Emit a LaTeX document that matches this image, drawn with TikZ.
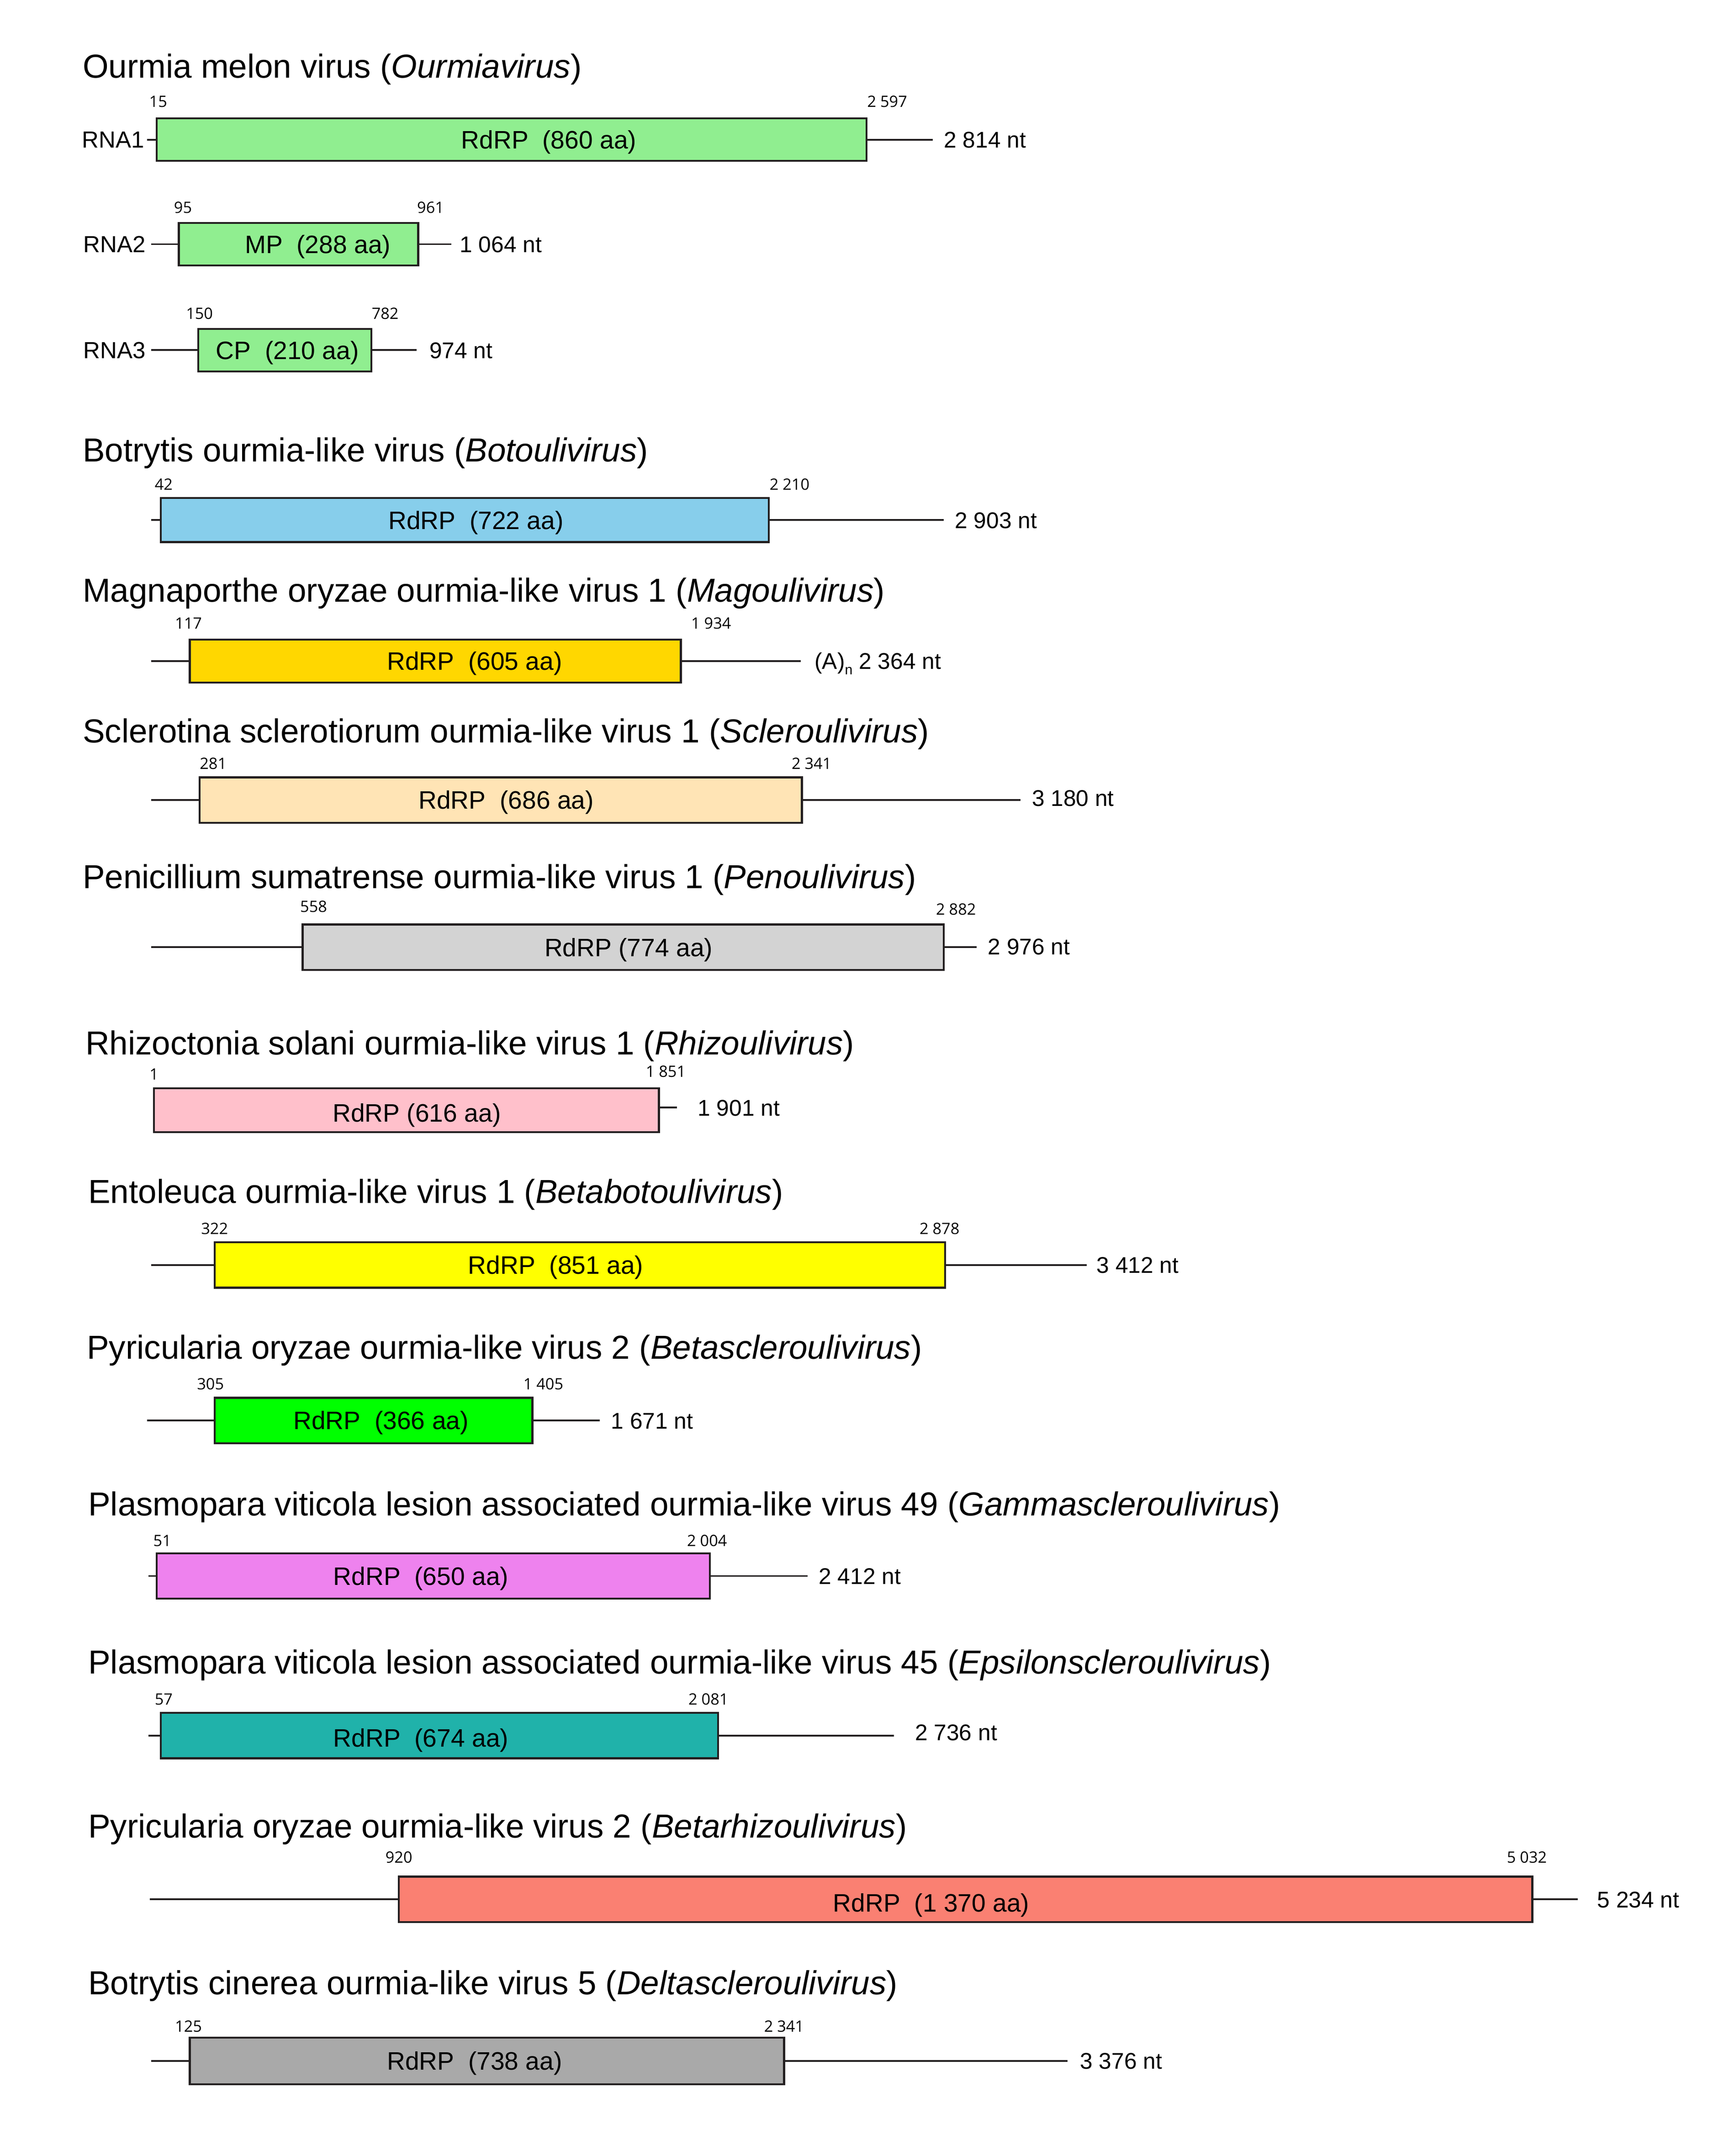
\documentclass[tikz,border=0pt]{standalone}
\usepackage{fontspec}
\setmainfont{Liberation Sans}
\newfontfamily\numfont{Open Sans}
\definecolor{cLG}{HTML}{90EE90}
\definecolor{cSky}{HTML}{87CEEB}
\definecolor{cGold}{HTML}{FFD700}
\definecolor{cMoc}{HTML}{FFE4B5}
\definecolor{cLGray}{HTML}{D3D3D3}
\definecolor{cPink}{HTML}{FFC0CB}
\definecolor{cYel}{HTML}{FFFF00}
\definecolor{cLime}{HTML}{00FF00}
\definecolor{cViol}{HTML}{EE82EE}
\definecolor{cSea}{HTML}{20B2AA}
\definecolor{cSalm}{HTML}{FA8072}
\definecolor{cDGray}{HTML}{A9A9A9}
\definecolor{ink}{HTML}{231F20}
\tikzset{
  title/.style={anchor=base west, yshift=-8.6pt, inner sep=0pt, font=\fontsize{24}{26}\selectfont},
  rna/.style={anchor=base east, yshift=-6pt, inner sep=0pt, font=\fontsize{16.8}{18}\selectfont},
  boxlbl/.style={anchor=base, yshift=-6.5pt, inner sep=0pt, font=\fontsize{18.2}{20}\selectfont},
  lenlbl/.style={anchor=base west, yshift=-5.9pt, inner sep=0pt, font=\fontsize{16.4}{18}\selectfont},
  posnum/.style={anchor=base, yshift=-4pt, inner sep=0pt, font=\numfont\fontsize{11.3}{12}\selectfont},
  gbox/.style={draw=ink, line width=1.4pt, rectangle, inner sep=0pt, outer sep=0pt},
  seg/.style={draw=ink, line width=1.3pt},
}
% name, x1, x2, ytop, ybot, colour
\newcommand\orfbox[6]{%
  \pgfmathsetmacro\bw{(#3-#2)*0.9929}\pgfmathsetmacro\bh{(#5-#4)*0.9929}%
  \node[gbox, fill=#6, minimum width=\bw pt, minimum height=\bh pt] (#1) at ({(#2+#3)/2},{(#4+#5)/2}) {};}
\begin{document}
\begin{tikzpicture}[x=0.9929pt,y=-0.9929pt]
\useasboundingbox (0,0) rectangle (1248.9,1567.1);
\fill[white] (0,0) rectangle (1248.9,1567.1);

% ---------- 1 Ourmia melon virus ----------
\node[title] (t1) at (60,48) {Ourmia melon virus (\textit{Ourmiavirus})};
% RNA1
\orfbox{b1}{114}{630}{86}{117}{cLG}
\node[rna] (n1) at (105,101.5) {RNA1};
\coordinate (b1L) at (107,101.5);
\coordinate (b1R) at (678,101.5);
\draw[seg] (b1L) -- (b1.west);
\draw[seg] (b1.east) -- (b1R);
\node[lenlbl] (l1) at (686,101.5) {2 814 nt};
\node[boxlbl] (x1) at (399,101.5) {RdRP\ \ (860 aa)};
\node[posnum] (p1a) at (115,74) {15};
\node[posnum] (p1b) at (645,74) {2 597};
% RNA2
\orfbox{b2}{130}{304}{162}{193}{cLG}
\node[rna] (n2) at (106,177.5) {RNA2};
\coordinate (b2L) at (110,177.5);
\coordinate (b2R) at (328,177.5);
\draw[seg] (b2L) -- (b2.west);
\draw[seg] (b2.east) -- (b2R);
\node[lenlbl] (l2) at (334,177.5) {1 064 nt};
\node[boxlbl] (x2) at (231,177.5) {MP\ \ (288 aa)};
\node[posnum] (p2a) at (133,151) {95};
\node[posnum] (p2b) at (313,151) {961};
% RNA3
\orfbox{b3}{144}{270}{239}{270}{cLG}
\node[rna] (n3) at (106,254.5) {RNA3};
\coordinate (b3L) at (110,254.5);
\coordinate (b3R) at (303,254.5);
\draw[seg] (b3L) -- (b3.west);
\draw[seg] (b3.east) -- (b3R);
\node[lenlbl] (l3) at (312,254.5) {974 nt};
\node[boxlbl] (x3) at (209,254.5) {CP\ \ (210 aa)};
\node[posnum] (p3a) at (145,228) {150};
\node[posnum] (p3b) at (280,228) {782};

% ---------- 2 Botoulivirus ----------
\node[title] (t4) at (60,327) {Botrytis ourmia-like virus (\textit{Botoulivirus})};
\orfbox{b4}{117}{559}{362}{394}{cSky}
\coordinate (b4L) at (110,378);
\coordinate (b4R) at (686,378);
\draw[seg] (b4L) -- (b4.west);
\draw[seg] (b4.east) -- (b4R);
\node[lenlbl] (l4) at (694,378) {2 903 nt};
\node[boxlbl] (x4) at (346,378) {RdRP\ \ (722 aa)};
\node[posnum] (p4a) at (119,352) {42};
\node[posnum] (p4b) at (574,352) {2 210};

% ---------- 3 Magoulivirus ----------
\node[title] (t5) at (60,429) {Magnaporthe oryzae ourmia-like virus 1 (\textit{Magoulivirus})};
\orfbox{b5}{138}{495}{465}{496}{cGold}
\coordinate (b5L) at (110,480.5);
\coordinate (b5R) at (582,480.5);
\draw[seg] (b5L) -- (b5.west);
\draw[seg] (b5.east) -- (b5R);
\node[lenlbl] (l5) at (592,480.5) {(A)\raisebox{-0.45ex}{\fontsize{10}{11}\selectfont n} 2 364 nt};
\node[boxlbl] (x5) at (345,480.5) {RdRP\ \ (605 aa)};
\node[posnum] (p5a) at (137,453) {117};
\node[posnum] (p5b) at (517,453) {1 934};

% ---------- 4 Scleroulivirus ----------
\node[title] (t6) at (60,531) {Sclerotina sclerotiorum ourmia-like virus 1 (\textit{Scleroulivirus})};
\orfbox{b6}{145}{583}{565}{598}{cMoc}
\coordinate (b6L) at (110,581.5);
\coordinate (b6R) at (742,581.5);
\draw[seg] (b6L) -- (b6.west);
\draw[seg] (b6.east) -- (b6R);
\node[lenlbl] (l6) at (750,580) {3 180 nt};
\node[boxlbl] (x6) at (368,581.5) {RdRP\ \ (686 aa)};
\node[posnum] (p6a) at (155,555) {281};
\node[posnum] (p6b) at (590,555) {2 341};

% ---------- 5 Penoulivirus ----------
\node[title] (t7) at (60,637) {Penicillium sumatrense ourmia-like virus 1 (\textit{Penoulivirus})};
\orfbox{b7}{220}{686}{672}{705}{cLGray}
\coordinate (b7L) at (110,688.5);
\coordinate (b7R) at (710,688.5);
\draw[seg] (b7L) -- (b7.west);
\draw[seg] (b7.east) -- (b7R);
\node[lenlbl] (l7) at (718,688) {2 976 nt};
\node[boxlbl] (x7) at (457,688.5) {RdRP (774 aa)};
\node[posnum] (p7a) at (228,659) {558};
\node[posnum] (p7b) at (695,661) {2 882};

% ---------- 6 Rhizoulivirus ----------
\node[title] (t8) at (62,758) {Rhizoctonia solani ourmia-like virus 1 (\textit{Rhizoulivirus})};
\orfbox{b8}{112}{479}{791}{823}{cPink}
\coordinate (b8R) at (492,805);
\draw[seg] (b8.east |- b8R) -- (b8R);
\node[lenlbl] (l8) at (507,805) {1 901 nt};
\node[boxlbl] (x8) at (303,809) {RdRP (616 aa)};
\node[posnum] (p8a) at (112,781) {1};
\node[posnum] (p8b) at (484,779) {1 851};

% ---------- 7 Betabotoulivirus ----------
\node[title] (t9) at (64,866) {Entoleuca ourmia-like virus 1 (\textit{Betabotoulivirus})};
\orfbox{b9}{156}{687}{903}{936}{cYel}
\coordinate (b9L) at (110,919.5);
\coordinate (b9R) at (790,919.5);
\draw[seg] (b9L) -- (b9.west);
\draw[seg] (b9.east) -- (b9R);
\node[lenlbl] (l9) at (797,919.5) {3 412 nt};
\node[boxlbl] (x9) at (404,919.5) {RdRP\ \ (851 aa)};
\node[posnum] (p9a) at (156,893) {322};
\node[posnum] (p9b) at (683,893) {2 878};

% ---------- 8 Betascleroulivirus ----------
\node[title] (t10) at (63,979) {Pyricularia oryzae ourmia-like virus 2 (\textit{Betascleroulivirus})};
\orfbox{b10}{156}{387}{1016}{1049}{cLime}
\coordinate (b10L) at (107,1032.5);
\coordinate (b10R) at (436,1032.5);
\draw[seg] (b10L) -- (b10.west);
\draw[seg] (b10.east) -- (b10R);
\node[lenlbl] (l10) at (444,1032.5) {1 671 nt};
\node[boxlbl] (x10) at (277,1032.5) {RdRP\ \ (366 aa)};
\node[posnum] (p10a) at (153,1006) {305};
\node[posnum] (p10b) at (395,1006) {1 405};

% ---------- 9 Gammascleroulivirus ----------
\node[title] (t11) at (64,1093) {Plasmopara viticola lesion associated ourmia-like virus 49 (\textit{Gammascleroulivirus})};
\orfbox{b11}{114}{516}{1129}{1162}{cViol}
\coordinate (b11L) at (108,1145.5);
\coordinate (b11R) at (587,1145.5);
\draw[seg] (b11L) -- (b11.west);
\draw[seg] (b11.east) -- (b11R);
\node[lenlbl] (l11) at (595,1145.5) {2 412 nt};
\node[boxlbl] (x11) at (306,1145.5) {RdRP\ \ (650 aa)};
\node[posnum] (p11a) at (118,1120) {51};
\node[posnum] (p11b) at (514,1120) {2 004};

% ---------- 10 Epsilonscleroulivirus ----------
\node[title] (t12) at (64,1208) {Plasmopara viticola lesion associated ourmia-like virus 45 (\textit{Epsilonscleroulivirus})};
\orfbox{b12}{117}{522}{1245}{1278}{cSea}
\coordinate (b12L) at (108,1261.5);
\coordinate (b12R) at (650,1261.5);
\draw[seg] (b12L) -- (b12.west);
\draw[seg] (b12.east) -- (b12R);
\node[lenlbl] (l12) at (665,1259) {2 736 nt};
\node[boxlbl] (x12) at (306,1263) {RdRP\ \ (674 aa)};
\node[posnum] (p12a) at (119,1235) {57};
\node[posnum] (p12b) at (515,1235) {2 081};

% ---------- 11 Betarhizoulivirus ----------
\node[title] (t13) at (64,1327) {Pyricularia oryzae ourmia-like virus 2 (\textit{Betarhizoulivirus})};
\orfbox{b13}{290}{1114}{1364}{1397}{cSalm}
\coordinate (b13L) at (109,1380.5);
\coordinate (b13R) at (1147,1380.5);
\draw[seg] (b13L) -- (b13.west);
\draw[seg] (b13.east) -- (b13R);
\node[lenlbl] (l13) at (1161,1380.5) {5 234 nt};
\node[boxlbl] (x13) at (677,1383) {RdRP\ \ (1 370 aa)};
\node[posnum] (p13a) at (290,1350) {920};
\node[posnum] (p13b) at (1110,1350) {5 032};

% ---------- 12 Deltascleroulivirus ----------
\node[title] (t14) at (64,1441) {Botrytis cinerea ourmia-like virus 5 (\textit{Deltascleroulivirus})};
\orfbox{b14}{138}{570}{1481}{1515}{cDGray}
\coordinate (b14L) at (110,1498);
\coordinate (b14R) at (776,1498);
\draw[seg] (b14L) -- (b14.west);
\draw[seg] (b14.east) -- (b14R);
\node[lenlbl] (l14) at (785,1498) {3 376 nt};
\node[boxlbl] (x14) at (345,1498) {RdRP\ \ (738 aa)};
\node[posnum] (p14a) at (137,1473) {125};
\node[posnum] (p14b) at (570,1473) {2 341};
\end{tikzpicture}
\end{document}
